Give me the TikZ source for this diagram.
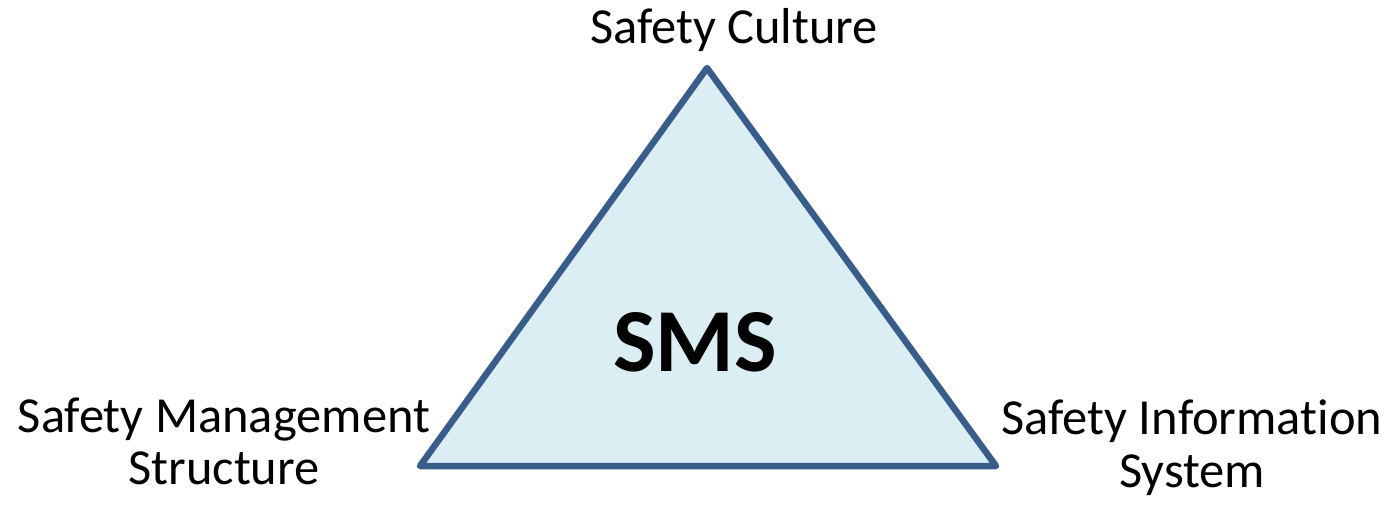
\documentclass[tikz,border=0pt]{standalone}
\usepackage{fontspec}
\setmainfont{Carlito}[Ligatures={NoCommon}]
\definecolor{edgeblue}{HTML}{385D8A}
\definecolor{fillblue}{HTML}{DBEEF4}
\tikzset{
  label text/.style={font=\fontsize{50.5}{53}\selectfont, inner sep=0pt, align=center, text=black},
  core text/.style={font=\fontsize{90}{96}\selectfont\bfseries, inner sep=0pt, text=black},
}
\begin{document}
\begin{tikzpicture}[x=1pt,y=-1pt]
  \useasboundingbox (0,0) rectangle (1388,506);
  % corners of the triangle
  \coordinate (top) at (707,68);
  \coordinate (left) at (420,466);
  \coordinate (right) at (996,466);
  \filldraw[fill=fillblue, draw=edgeblue, line width=6.5pt, line join=round]
    (top) -- (left) -- (right) -- cycle;
  \node[core text, anchor=base] (sms) at (695,371) {SMS};
  \node[label text, anchor=base] (culture) at (734,43) {Safety Culture};
  \node[label text, anchor=base] (mgmt1) at (224,432) {Safety Management};
  \node[label text, anchor=base] (mgmt2) at (224,484) {Structure};
  \node[label text, anchor=base] (info1) at (1192,434) {Safety Information};
  \node[label text, anchor=base] (info2) at (1192,487) {System};
\end{tikzpicture}
\end{document}
